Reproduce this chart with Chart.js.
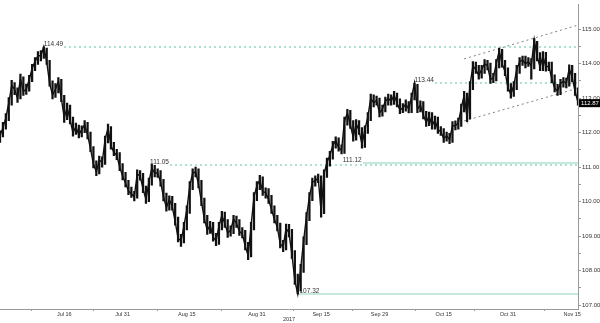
<!DOCTYPE html>
<html>
<head>
<meta charset="utf-8">
<script src="https://cdn.jsdelivr.net/npm/chart.js@4.4.0/dist/chart.umd.min.js"></script>
<style>
  html, body { margin: 0; padding: 0; background: #fff; }
  canvas { display: block; }
</style>
</head>
<body>
<canvas id="usdjpy" width="600" height="323"></canvas>
<script>
// USD/JPY 2017, one bar every half trading session
// x = trading day index (Mon Jul 3 = 0), weekends removed
var firstDay = -1;
var dayStep = 0.5;
var closes = [
  111.91, 112.14, 112.43, 112.86, 113.37, 113.26, 113.00, 113.57, 113.20, 113.26,
  113.54, 113.86, 114.06, 114.23, 114.23, 114.49, 114.06, 113.43, 113.09, 113.26,
  113.49, 113.00, 112.43, 112.74, 112.37, 112.00, 112.17, 111.94, 112.09, 112.23,
  111.94, 111.54, 111.09, 110.86, 111.20, 111.14, 111.80, 112.14, 111.63, 111.43,
  111.34, 111.00, 110.74, 110.54, 110.31, 110.23, 110.14, 110.80, 110.74, 110.37,
  110.06, 110.57, 110.97, 110.83, 110.83, 110.57, 110.14, 109.83, 110.06, 109.86,
  109.43, 108.94, 108.86, 109.29, 109.77, 110.46, 110.83, 110.86, 110.51, 110.00,
  109.49, 109.17, 109.31, 108.97, 108.86, 109.29, 109.60, 109.37, 109.09, 109.17,
  109.49, 109.37, 109.14, 109.06, 108.71, 108.43, 109.29, 110.14, 110.46, 110.63,
  110.29, 110.26, 110.06, 109.77, 109.49, 109.26, 108.77, 108.69, 109.23, 109.09,
  108.46, 107.71, 107.32, 108.06, 108.86, 109.57, 110.14, 110.57, 110.60, 110.69,
  109.71, 110.80, 111.14, 111.34, 111.63, 111.77, 111.57, 111.49, 112.34, 112.57,
  112.23, 111.86, 112.26, 112.06, 111.66, 112.09, 112.46, 113.00, 112.86, 112.94,
  112.57, 112.69, 112.91, 113.00, 112.91, 113.09, 112.86, 112.66, 112.71, 112.83,
  112.69, 113.03, 113.44, 112.69, 112.80, 112.51, 112.29, 112.49, 112.20, 112.37,
  112.09, 112.03, 111.83, 111.91, 111.80, 112.20, 112.20, 112.29, 112.71, 113.09,
  112.43, 113.37, 113.94, 113.83, 113.66, 113.83, 114.00, 113.94, 113.54, 113.60,
  114.00, 114.37, 114.00, 113.77, 113.31, 113.11, 113.37, 113.83, 114.06, 114.11,
  114.00, 114.06, 113.94, 114.70, 114.20, 113.91, 114.23, 113.89, 113.94, 113.57,
  113.29, 113.20, 113.43, 113.49, 113.43, 113.86, 113.60, 113.20, 112.87
];
var highs = [
  112.05, 112.30, 112.55, 113.02, 113.52, 113.45, 113.30, 113.70, 113.62, 113.41,
  113.66, 113.98, 114.18, 114.35, 114.38, 114.49, 114.45, 114.10, 113.50, 113.42,
  113.60, 113.55, 113.08, 112.86, 112.80, 112.45, 112.28, 112.22, 112.20, 112.35,
  112.30, 112.02, 111.60, 111.18, 111.32, 111.30, 111.90, 112.25, 112.18, 111.72,
  111.52, 111.42, 111.10, 110.85, 110.62, 110.42, 110.30, 110.92, 110.90, 110.82,
  110.45, 110.68, 111.08, 111.05, 110.95, 110.90, 110.65, 110.25, 110.17, 110.15,
  109.95, 109.55, 109.05, 109.40, 109.88, 110.58, 110.95, 111.00, 110.95, 110.62,
  110.10, 109.60, 109.43, 109.40, 109.08, 109.40, 109.72, 109.70, 109.48, 109.30,
  109.60, 109.58, 109.48, 109.25, 109.17, 108.82, 109.40, 110.26, 110.58, 110.76,
  110.72, 110.40, 110.38, 110.18, 109.88, 109.60, 109.38, 108.88, 109.35, 109.34,
  109.20, 108.58, 107.90, 108.18, 108.98, 109.68, 110.26, 110.68, 110.75, 110.80,
  110.75, 110.92, 111.26, 111.46, 111.75, 111.88, 111.85, 111.65, 112.45, 112.68,
  112.65, 112.35, 112.38, 112.35, 112.15, 112.20, 112.58, 113.12, 113.10, 113.06,
  113.00, 112.80, 113.03, 113.12, 113.10, 113.20, 113.15, 112.98, 112.84, 112.95,
  112.90, 113.15, 113.44, 113.40, 112.92, 112.90, 112.62, 112.60, 112.58, 112.48,
  112.45, 112.18, 112.12, 112.02, 111.98, 112.32, 112.34, 112.42, 112.83, 113.20,
  113.15, 113.48, 114.06, 114.05, 113.95, 113.95, 114.12, 114.10, 114.02, 113.72,
  114.12, 114.45, 114.42, 114.10, 113.88, 113.42, 113.48, 113.95, 114.18, 114.22,
  114.22, 114.18, 114.15, 114.73, 114.65, 114.32, 114.35, 114.33, 114.05, 114.05,
  113.68, 113.40, 113.55, 113.60, 113.58, 113.97, 113.95, 113.72, 113.30
];
var lows = [
  111.72, 111.88, 112.10, 112.35, 112.80, 113.10, 112.88, 112.98, 113.08, 113.11,
  113.20, 113.48, 113.80, 113.98, 114.08, 114.15, 113.98, 113.35, 112.98, 113.02,
  113.15, 112.90, 112.30, 112.38, 112.25, 111.90, 111.95, 111.85, 111.88, 112.00,
  111.82, 111.45, 110.98, 110.75, 110.80, 111.00, 111.08, 111.70, 111.52, 111.33,
  111.22, 110.90, 110.63, 110.43, 110.20, 110.12, 110.02, 110.10, 110.62, 110.26,
  109.95, 110.00, 110.48, 110.72, 110.70, 110.45, 110.02, 109.72, 109.75, 109.75,
  109.32, 108.83, 108.70, 108.80, 109.18, 109.66, 110.35, 110.72, 110.40, 109.88,
  109.38, 109.05, 109.08, 108.85, 108.72, 108.76, 109.18, 109.25, 108.96, 109.00,
  109.07, 109.25, 109.02, 108.95, 108.60, 108.32, 108.40, 109.18, 110.03, 110.35,
  110.18, 110.10, 109.95, 109.66, 109.38, 109.15, 108.66, 108.55, 108.60, 108.98,
  108.35, 107.60, 107.32, 107.40, 107.95, 108.75, 109.45, 110.03, 110.45, 110.55,
  109.55, 109.65, 110.70, 111.03, 111.23, 111.55, 111.46, 111.38, 111.40, 112.22,
  112.12, 111.75, 111.78, 111.95, 111.55, 111.57, 111.98, 112.35, 112.75, 112.80,
  112.46, 112.48, 112.60, 112.80, 112.80, 112.82, 112.75, 112.55, 112.58, 112.62,
  112.57, 112.58, 112.95, 112.58, 112.60, 112.40, 112.18, 112.20, 112.10, 112.10,
  111.98, 111.92, 111.72, 111.75, 111.68, 111.72, 112.08, 112.10, 112.18, 112.60,
  112.32, 112.40, 113.25, 113.72, 113.55, 113.58, 113.72, 113.82, 113.43, 113.45,
  113.50, 113.88, 113.90, 113.65, 113.20, 113.00, 113.05, 113.25, 113.72, 113.95,
  113.88, 113.92, 113.55, 113.85, 114.08, 113.80, 113.80, 113.78, 113.80, 113.45,
  113.18, 113.08, 113.10, 113.32, 113.30, 113.35, 113.48, 113.08, 112.80
];

// date axis
var tickDays = [10, 20, 31, 43, 54, 64, 75, 86, 97];
var tickNames = ['Jul 16', 'Jul 31', 'Aug 15', 'Aug 31', 'Sep 15', 'Sep 29', 'Oct 15', 'Oct 31', 'Nov 15'];
var minorDays = [4.4, 15, 25.9, 37, 49.2, 59.3, 70.1, 80.3, 92.3];

// price axis
var priceTicks = [107, 107.5, 108, 108.5, 109, 109.5, 110, 110.5, 111, 111.5,
                  112, 112.5, 113, 113.5, 114, 114.5, 115];

// support / resistance levels and the day they start
var levelPrices = [114.49, 113.44, 111.05, 111.12, 107.32];
var levelDays = [6.5, 70, 24.7, 57.7, 50.3];
var solidLevels = [111.12, 107.32];

// rising channel
var chanDays = [78.5, 98];
var chanUpper = [114.14, 115.12];
var chanLower = [112.34, 113.29];

var closePoints = closes.map(function (c, i) {
  return { x: firstDay + i * dayStep, y: c };
});
var rangePoints = closes.map(function (c, i) {
  return { x: firstDay + i * dayStep, y: [lows[i], highs[i]] };
});

var smallFont = '"Liberation Sans Narrow", "Liberation Sans", sans-serif';

var levelsPlugin = {
  id: 'levels',
  beforeDatasetsDraw: function (chart) {
    var ctx = chart.ctx, xs = chart.scales.x, ys = chart.scales.y, area = chart.chartArea;
    ctx.save();
    ctx.font = '6.5px "Liberation Sans", sans-serif';
    levelPrices.forEach(function (p, i) {
      var solid = solidLevels.indexOf(p) >= 0;
      var px = xs.getPixelForValue(levelDays[i]);
      var py = Math.round(ys.getPixelForValue(p));
      var w = ctx.measureText(p.toFixed(2)).width;
      var x0 = Math.round(solid && p < 108 ? px - 2 : px + w + 1);
      ctx.lineWidth = solid ? 1.5 : 1.2;
      ctx.strokeStyle = solid ? '#b2e2cf' : '#5cc4a7';
      ctx.setLineDash(solid ? [] : [2, 3]);
      ctx.beginPath();
      ctx.moveTo(x0, py);
      ctx.lineTo(area.right, py);
      ctx.stroke();
    });
    // channel
    ctx.lineWidth = 1;
    ctx.strokeStyle = '#808080';
    ctx.setLineDash([2, 3]);
    [chanUpper, chanLower].forEach(function (arr) {
      ctx.beginPath();
      ctx.moveTo(xs.getPixelForValue(chanDays[0]), ys.getPixelForValue(arr[0]));
      ctx.lineTo(xs.getPixelForValue(chanDays[1]), ys.getPixelForValue(arr[1]));
      ctx.stroke();
    });
    ctx.restore();
  },
  afterDatasetsDraw: function (chart) {
    var ctx = chart.ctx, xs = chart.scales.x, ys = chart.scales.y, area = chart.chartArea;
    ctx.save();
    ctx.font = '6.5px "Liberation Sans", sans-serif';
    ctx.fillStyle = '#333';
    ctx.textBaseline = 'bottom';
    levelPrices.forEach(function (p, i) {
      ctx.fillText(p.toFixed(2), xs.getPixelForValue(levelDays[i]), ys.getPixelForValue(p) + 0.5);
    });
    // last price tag
    var last = closes[closes.length - 1];
    var ly = ys.getPixelForValue(last);
    ctx.fillStyle = '#000';
    ctx.fillRect(area.right + 1, ly - 3.5, chart.width - area.right - 1, 8);
    ctx.fillStyle = '#fff';
    ctx.font = '6px ' + smallFont;
    ctx.textBaseline = 'middle';
    ctx.fillText(last.toFixed(2), area.right + 3, ly + 0.5);
    ctx.restore();
  }
};

new Chart(document.getElementById('usdjpy'), {
  type: 'line',
  data: {
    datasets: [{
      type: 'bar',
      data: rangePoints,
      backgroundColor: '#111',
      barThickness: 1.6,
      borderWidth: 0
    }, {
      data: closePoints,
      borderColor: '#111',
      borderWidth: 1.4,
      pointRadius: 0,
      tension: 0
    }]
  },
  options: {
    responsive: false,
    animation: false,
    devicePixelRatio: 1,
    layout: { padding: 0 },
    plugins: { legend: { display: false }, tooltip: { enabled: false } },
    scales: {
      x: {
        type: 'linear',
        min: -1,
        max: 98,
        offset: false,
        afterBuildTicks: function (scale) {
          scale.ticks = tickDays.concat(minorDays).map(function (v) { return { value: v }; });
        },
        afterFit: function (scale) { scale.height = 14; },
        grid: {
          offset: false,
          drawOnChartArea: false,
          tickLength: 2,
          tickColor: function (c) {
            return c.tick && minorDays.indexOf(c.tick.value) >= 0 ? '#999' : 'rgba(0,0,0,0)';
          }
        },
        border: { color: '#9a9a9a' },
        ticks: {
          autoSkip: false,
          maxRotation: 0,
          padding: 0,
          color: '#333',
          font: { family: smallFont, size: 5.5 },
          callback: function (v) {
            var i = tickDays.indexOf(v);
            return i >= 0 ? tickNames[i] : '';
          }
        },
        title: {
          display: true,
          text: '2017',
          padding: 0,
          color: '#333',
          font: { family: smallFont, size: 5.5 }
        }
      },
      y: {
        position: 'right',
        min: 106.886,
        max: 115.714,
        afterBuildTicks: function (scale) {
          scale.ticks = priceTicks.map(function (v) { return { value: v }; });
        },
        afterFit: function (scale) { scale.width = 22; },
        grid: { drawOnChartArea: false, tickLength: 3, tickColor: '#999' },
        border: { color: '#9a9a9a' },
        ticks: {
          padding: 1,
          color: '#333',
          font: { family: smallFont, size: 6 },
          callback: function (v) {
            return v % 1 === 0 ? v.toFixed(2) : '';
          }
        }
      }
    }
  },
  plugins: [levelsPlugin]
});
</script>
</body>
</html>
